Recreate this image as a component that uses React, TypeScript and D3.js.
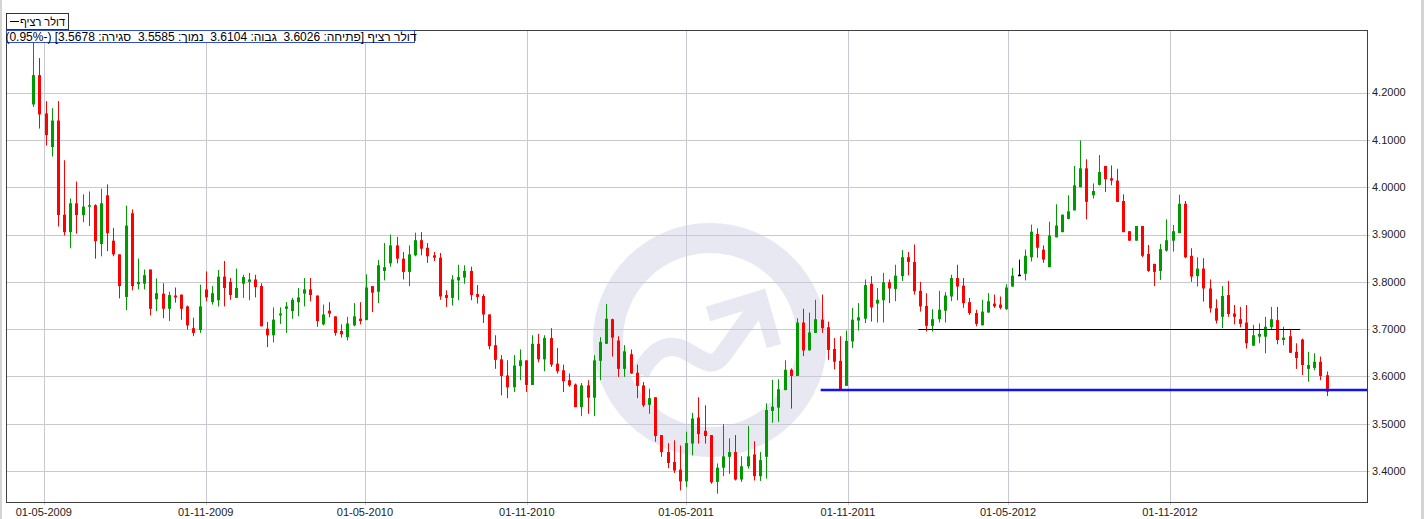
import React from 'react';
import * as d3 from 'd3';

// weekly candles, first week starts here
const startDate = new Date(2009, 3, 19);

const opens = [
  4.175, 4.237, 4.156, 4.085, 4.141, 3.942, 3.905, 3.966, 3.941, 3.959,
  3.962, 3.880, 3.983, 3.887, 3.858, 3.768, 3.945, 3.795, 3.796, 3.826,
  3.763, 3.775, 3.743, 3.771, 3.773, 3.748, 3.702, 3.698, 3.784, 3.757,
  3.761, 3.811, 3.800, 3.766, 3.796, 3.800, 3.805, 3.791, 3.701, 3.687,
  3.729, 3.743, 3.738, 3.757, 3.775, 3.784, 3.771, 3.710, 3.739, 3.727,
  3.696, 3.683, 3.708, 3.722, 3.719, 3.791, 3.779, 3.823, 3.839, 3.877,
  3.849, 3.821, 3.856, 3.888, 3.872, 3.856, 3.851, 3.772, 3.766, 3.803,
  3.809, 3.823, 3.774, 3.770, 3.731, 3.666, 3.636, 3.602, 3.577, 3.622,
  3.634, 3.582, 3.669, 3.636, 3.681, 3.627, 3.613, 3.592, 3.583, 3.535,
  3.581, 3.555, 3.633, 3.669, 3.721, 3.676, 3.616, 3.647, 3.608, 3.581,
  3.540, 3.556, 3.476, 3.440, 3.419, 3.403, 3.378, 3.458, 3.513, 3.485,
  3.476, 3.377, 3.407, 3.430, 3.440, 3.382, 3.410, 3.435, 3.389, 3.430,
  3.527, 3.534, 3.571, 3.614, 3.601, 3.714, 3.655, 3.692, 3.720, 3.704,
  3.658, 3.633, 3.580, 3.674, 3.718, 3.722, 3.796, 3.754, 3.761, 3.799,
  3.785, 3.812, 3.852, 3.842, 3.781, 3.749, 3.707, 3.721, 3.739, 3.769,
  3.808, 3.792, 3.757, 3.734, 3.708, 3.735, 3.754, 3.752, 3.742, 3.790,
  3.815, 3.817, 3.852, 3.901, 3.868, 3.831, 3.894, 3.905, 3.933, 3.951,
  4.000, 4.040, 3.983, 4.005, 4.045, 4.019, 4.014, 3.971, 3.907, 3.887,
  3.918, 3.859, 3.838, 3.823, 3.866, 3.887, 3.903, 3.965, 3.855, 3.812,
  3.828, 3.786, 3.744, 3.726, 3.772, 3.733, 3.721, 3.714, 3.665, 3.684,
  3.684, 3.704, 3.719, 3.677, 3.685, 3.652, 3.678, 3.616, 3.618, 3.631,
  3.6026,
];

const highs = [
  4.310, 4.273, 4.182, 4.167, 4.182, 4.057, 3.976, 4.012, 3.985, 3.991,
  3.964, 3.997, 4.006, 3.914, 3.858, 3.961, 3.953, 3.849, 3.826, 3.826,
  3.807, 3.797, 3.779, 3.788, 3.773, 3.750, 3.724, 3.794, 3.822, 3.791,
  3.825, 3.844, 3.808, 3.828, 3.815, 3.819, 3.815, 3.797, 3.715, 3.746,
  3.746, 3.757, 3.766, 3.787, 3.808, 3.808, 3.771, 3.752, 3.757, 3.727,
  3.710, 3.726, 3.755, 3.757, 3.816, 3.791, 3.846, 3.882, 3.900, 3.895,
  3.863, 3.877, 3.904, 3.905, 3.882, 3.863, 3.861, 3.782, 3.814, 3.836,
  3.835, 3.832, 3.793, 3.774, 3.731, 3.687, 3.645, 3.634, 3.645, 3.657,
  3.634, 3.687, 3.690, 3.687, 3.702, 3.660, 3.625, 3.606, 3.585, 3.586,
  3.592, 3.645, 3.683, 3.753, 3.722, 3.685, 3.666, 3.657, 3.625, 3.588,
  3.574, 3.556, 3.476, 3.459, 3.465, 3.454, 3.483, 3.523, 3.556, 3.539,
  3.476, 3.416, 3.499, 3.469, 3.476, 3.431, 3.495, 3.463, 3.440, 3.543,
  3.593, 3.594, 3.634, 3.617, 3.723, 3.743, 3.735, 3.762, 3.773, 3.716,
  3.681, 3.685, 3.697, 3.745, 3.755, 3.805, 3.812, 3.787, 3.819, 3.805,
  3.836, 3.867, 3.863, 3.879, 3.800, 3.776, 3.742, 3.781, 3.778, 3.815,
  3.836, 3.808, 3.766, 3.741, 3.762, 3.776, 3.773, 3.769, 3.795, 3.829,
  3.847, 3.868, 3.921, 3.913, 3.877, 3.927, 3.964, 3.942, 3.983, 4.045,
  4.099, 4.059, 4.008, 4.068, 4.045, 4.046, 4.039, 3.985, 3.907, 3.918,
  3.918, 3.878, 3.838, 3.880, 3.932, 3.920, 3.984, 3.971, 3.871, 3.852,
  3.850, 3.805, 3.763, 3.791, 3.802, 3.751, 3.747, 3.751, 3.709, 3.712,
  3.726, 3.747, 3.747, 3.705, 3.699, 3.670, 3.680, 3.652, 3.649, 3.642,
  3.6104,
];

const lows = [
  4.170, 4.124, 4.088, 4.065, 3.917, 3.898, 3.871, 3.902, 3.926, 3.918,
  3.849, 3.854, 3.865, 3.854, 3.765, 3.740, 3.782, 3.784, 3.784, 3.729,
  3.738, 3.723, 3.717, 3.756, 3.720, 3.699, 3.685, 3.692, 3.759, 3.752,
  3.748, 3.748, 3.762, 3.766, 3.766, 3.761, 3.767, 3.706, 3.662, 3.672,
  3.711, 3.692, 3.722, 3.727, 3.748, 3.759, 3.705, 3.708, 3.725, 3.686,
  3.682, 3.676, 3.706, 3.710, 3.719, 3.736, 3.755, 3.803, 3.832, 3.839,
  3.805, 3.791, 3.854, 3.856, 3.840, 3.844, 3.762, 3.747, 3.750, 3.761,
  3.796, 3.761, 3.754, 3.713, 3.657, 3.616, 3.560, 3.554, 3.567, 3.592,
  3.567, 3.582, 3.630, 3.611, 3.620, 3.606, 3.567, 3.578, 3.535, 3.516,
  3.521, 3.516, 3.592, 3.669, 3.642, 3.599, 3.599, 3.606, 3.554, 3.535,
  3.521, 3.462, 3.430, 3.406, 3.396, 3.359, 3.366, 3.433, 3.458, 3.458,
  3.373, 3.352, 3.389, 3.394, 3.380, 3.377, 3.405, 3.380, 3.379, 3.384,
  3.502, 3.504, 3.571, 3.532, 3.601, 3.643, 3.655, 3.692, 3.692, 3.635,
  3.615, 3.571, 3.580, 3.660, 3.697, 3.713, 3.716, 3.714, 3.714, 3.755,
  3.759, 3.802, 3.814, 3.773, 3.737, 3.695, 3.695, 3.714, 3.714, 3.759,
  3.761, 3.745, 3.730, 3.706, 3.708, 3.735, 3.745, 3.742, 3.741, 3.790,
  3.814, 3.803, 3.843, 3.851, 3.840, 3.831, 3.894, 3.905, 3.932, 3.951,
  4.000, 3.932, 3.976, 4.004, 3.990, 4.004, 3.969, 3.905, 3.887, 3.887,
  3.852, 3.821, 3.791, 3.804, 3.864, 3.864, 3.903, 3.850, 3.800, 3.790,
  3.758, 3.735, 3.712, 3.702, 3.726, 3.710, 3.704, 3.659, 3.665, 3.670,
  3.649, 3.698, 3.668, 3.666, 3.650, 3.616, 3.603, 3.589, 3.613, 3.592,
  3.5585,
];

const closes = [
  4.237, 4.154, 4.110, 4.141, 3.941, 3.905, 3.966, 3.941, 3.959, 3.962,
  3.886, 3.966, 3.903, 3.858, 3.791, 3.919, 3.791, 3.800, 3.814, 3.743,
  3.776, 3.743, 3.772, 3.767, 3.743, 3.708, 3.692, 3.748, 3.767, 3.776,
  3.811, 3.787, 3.772, 3.787, 3.810, 3.805, 3.789, 3.706, 3.687, 3.720,
  3.733, 3.748, 3.762, 3.767, 3.784, 3.772, 3.717, 3.731, 3.733, 3.692,
  3.689, 3.712, 3.727, 3.717, 3.788, 3.777, 3.835, 3.831, 3.877, 3.849,
  3.821, 3.858, 3.888, 3.870, 3.854, 3.851, 3.769, 3.766, 3.805, 3.810,
  3.823, 3.772, 3.768, 3.731, 3.664, 3.635, 3.601, 3.577, 3.623, 3.634,
  3.582, 3.669, 3.636, 3.681, 3.625, 3.611, 3.590, 3.581, 3.535, 3.581,
  3.555, 3.634, 3.673, 3.722, 3.682, 3.616, 3.653, 3.606, 3.580, 3.539,
  3.554, 3.474, 3.440, 3.417, 3.401, 3.378, 3.459, 3.511, 3.478, 3.474,
  3.376, 3.407, 3.431, 3.440, 3.382, 3.410, 3.431, 3.389, 3.423, 3.529,
  3.536, 3.573, 3.614, 3.601, 3.714, 3.655, 3.693, 3.721, 3.702, 3.656,
  3.631, 3.571, 3.675, 3.720, 3.725, 3.793, 3.746, 3.762, 3.799, 3.786,
  3.813, 3.852, 3.842, 3.780, 3.748, 3.707, 3.721, 3.741, 3.771, 3.808,
  3.790, 3.755, 3.734, 3.711, 3.737, 3.759, 3.748, 3.745, 3.788, 3.813,
  3.815, 3.855, 3.906, 3.872, 3.847, 3.898, 3.919, 3.942, 3.949, 4.004,
  4.040, 3.969, 3.992, 4.032, 4.017, 4.014, 3.969, 3.905, 3.887, 3.918,
  3.855, 3.823, 3.821, 3.869, 3.888, 3.907, 3.965, 3.852, 3.811, 3.828,
  3.786, 3.744, 3.718, 3.770, 3.732, 3.726, 3.711, 3.670, 3.687, 3.690,
  3.705, 3.721, 3.677, 3.682, 3.650, 3.639, 3.624, 3.624, 3.631, 3.601,
  3.5678,
];

const yTicks = [3.4, 3.5, 3.6, 3.7, 3.8, 3.9, 4.0, 4.1, 4.2];
const xTickLabels = ['01-05-2009', '01-11-2009', '01-05-2010', '01-11-2010', '01-05-2011', '01-11-2011', '01-05-2012', '01-11-2012'];

const seriesName = 'דולר רציף';
const legendText = 'דולר רציף [פתיחה: 3.6026  גבוה: 3.6104  נמוך: 3.5585  סגירה: 3.5678] (-0.95%)';

// hand drawn levels
const supportLevel = 3.70;
const supportFrom = new Date(2012, 0, 20);
const supportTo = new Date(2013, 2, 29);
const lastLevel = 3.5712;
const lastFrom = new Date(2011, 9, 1);

const W = 1426;
const H = 519;
const m = { left: 6, right: 1367, top: 30, bottom: 502 };
const font = '"Liberation Sans", Arial, sans-serif';

const UP = '#009a00';
const DOWN = '#ff0000';
const GRID = '#c9c9d6';

export default function App() {
  const dates = opens.map((_, i) => d3.timeDay.offset(startDate, i * 7));
  const x = d3.scaleTime()
    .domain([d3.timeDay.offset(startDate, -31), d3.timeDay.offset(dates[dates.length - 1], 46)])
    .range([m.left, m.right]);
  const y = d3.scaleLinear().domain([3.3345, 4.3324]).range([m.bottom, m.top]);
  const parse = d3.timeParse('%d-%m-%Y');
  const fmt = d3.format('.4f');
  const px = (v: number) => Math.round(v) + 0.5;

  return (
    <div style={{ position: 'fixed', left: 0, top: 0 }}>
      <svg width={W} height={H} style={{ display: 'block', background: '#fff' }}>
        {/* window frame */}
        <rect x={0} y={0} width={2} height={H} fill="#d4d4d4" />
        <rect x={1421} y={0} width={3} height={H} fill="#d4d4d4" />

        {/* watermark */}
        <g fill="none" stroke="#e8e8f3">
          <circle cx={710} cy={340} r={102} strokeWidth={30} />
          <path d="M 640 374 C 652 350, 668 340, 688 352 C 705 362, 712 368, 722 356 L 758 306" strokeWidth={18} />
          <polyline points="708,314 760,298 774,346" strokeWidth={15} strokeLinejoin="miter" />
        </g>

        {/* grid */}
        {yTicks.map(t => (
          <line key={'gy' + t} x1={m.left} x2={m.right + 3} y1={px(y(t))} y2={px(y(t))} stroke={GRID} />
        ))}
        {xTickLabels.map(l => (
          <line key={'gx' + l} x1={px(x(parse(l)!))} x2={px(x(parse(l)!))} y1={m.top} y2={m.bottom + 3} stroke={GRID} />
        ))}

        {/* candles */}
        {dates.map((d, i) => {
          const c = px(x(d));
          const o = opens[i], cl = closes[i];
          const col = cl > o ? UP : cl < o ? DOWN : '#000';
          const top = y(Math.max(o, cl));
          const bot = y(Math.min(o, cl));
          return (
            <g key={i}>
              <line x1={c} x2={c} y1={y(highs[i])} y2={y(lows[i])} stroke={col} />
              <rect x={c - 1.5} y={top} width={3} height={Math.max(1.5, bot - top)} fill={col} />
            </g>
          );
        })}

        {/* levels */}
        <line x1={x(supportFrom)} x2={x(supportTo)} y1={px(y(supportLevel))} y2={px(y(supportLevel))} stroke="#000" />
        <line x1={x(lastFrom)} x2={m.right} y1={y(lastLevel)} y2={y(lastLevel)} stroke="#1010ff" strokeWidth={2.5} />

        {/* frame */}
        <rect x={m.left + 0.5} y={m.top + 0.5} width={m.right - m.left} height={m.bottom - m.top} fill="none" stroke="#404040" />

        {/* y axis labels */}
        {yTicks.map(t => (
          <text key={'ty' + t} x={m.right + 5} y={y(t)} dy="0.35em" fontFamily={font} fontSize={11} fill="#222">
            {fmt(t)}
          </text>
        ))}
        {/* x axis labels */}
        {xTickLabels.map(l => (
          <text key={'tx' + l} x={x(parse(l)!)} y={516} textAnchor="middle" fontFamily={font} fontSize={11} fill="#222">
            {l}
          </text>
        ))}

        {/* legend */}
        <rect x={6.5} y={13.5} width={62} height={16} fill="#fff" stroke="#333" />
        <line x1={10} x2={19} y1={21.5} y2={21.5} stroke="#000" />
        <text x={65} y={25.5} textAnchor="end" fontFamily={font} fontSize={11} fill="#000">{seriesName}</text>

        <rect x={6.5} y={30.5} width={408} height={12} fill="#fff" stroke="#3050d0" />
        <text x={211} y={40.5} textAnchor="middle" direction="rtl" fontFamily={font} fontSize={12} fill="#000"
          style={{ whiteSpace: 'pre', unicodeBidi: 'embed' }}>
          {legendText}
        </text>
      </svg>
    </div>
  );
}
